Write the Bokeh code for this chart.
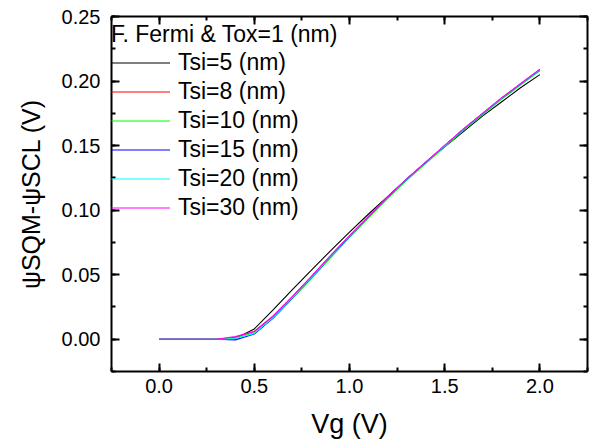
from bokeh.plotting import figure
from bokeh.models import (LinearAxis, SingleIntervalTicker, PrintfTickFormatter,
                          CustomJSTickFormatter, Legend, LegendItem)
from bokeh.embed import file_html
from bokeh.resources import INLINE

# Gate voltage sweep (V)
vg = [0.0, 0.1, 0.2, 0.3, 0.4, 0.5, 0.6, 0.7, 0.8, 0.9, 1.0,
      1.1, 1.2, 1.3, 1.4, 1.5, 1.6, 1.7, 1.8, 1.9, 2.0]

# Surface potential difference psi_SQM - psi_SCL (V) for each silicon thickness
psi_tsi5 = [0.0, 0.0, 0.0, 0.0, 0.0005, 0.0080, 0.0230, 0.0385, 0.0535, 0.0685, 0.0830,
            0.0970, 0.1105, 0.1240, 0.1370, 0.1490, 0.1610, 0.1730, 0.1840, 0.1950, 0.2050]
psi_tsi8 = [0.0, 0.0, 0.0, 0.0, 0.0015, 0.0060, 0.0180, 0.0330, 0.0485, 0.0645, 0.0800,
            0.0950, 0.1100, 0.1240, 0.1370, 0.1500, 0.1630, 0.1750, 0.1870, 0.1980, 0.2090]
psi_tsi10 = [0.0, 0.0, 0.0, 0.0, 0.0010, 0.0050, 0.0165, 0.0315, 0.0470, 0.0630, 0.0790,
             0.0940, 0.1090, 0.1230, 0.1360, 0.1490, 0.1620, 0.1740, 0.1860, 0.1970, 0.2080]
psi_tsi15 = [0.0, 0.0, 0.0, 0.0, -0.0005, 0.0040, 0.0165, 0.0320, 0.0478, 0.0640, 0.0795,
             0.0948, 0.1098, 0.1238, 0.1368, 0.1498, 0.1628, 0.1748, 0.1868, 0.1978, 0.2088]
psi_tsi20 = [0.0, 0.0, 0.0, 0.0, 0.0005, 0.0045, 0.0170, 0.0322, 0.0480, 0.0642, 0.0798,
             0.0949, 0.1099, 0.1239, 0.1369, 0.1499, 0.1629, 0.1749, 0.1869, 0.1979, 0.2089]
psi_tsi30 = [0.0, 0.0, 0.0, 0.0, 0.0020, 0.0060, 0.0180, 0.0330, 0.0487, 0.0647, 0.0802,
             0.0952, 0.1101, 0.1241, 0.1371, 0.1501, 0.1631, 0.1751, 0.1871, 0.1981, 0.2092]

series_labels = ["Tsi=5 (nm)", "Tsi=8 (nm)", "Tsi=10 (nm)",
                 "Tsi=15 (nm)", "Tsi=20 (nm)", "Tsi=30 (nm)"]
series_values = [psi_tsi5, psi_tsi8, psi_tsi10, psi_tsi15, psi_tsi20, psi_tsi30]
series_colors = ["#000000", "#ff0000", "#00ff00", "#0000ff", "#00ffff", "#ff00ff"]

legend_title = "F. Fermi & Tox=1 (nm)"
x_title = "Vg (V)"
y_title = "\u03c8SQM-\u03c8SCL (V)"

FONT = "Liberation Sans"
X0, X1 = -0.25, 2.25
Y0, Y1 = -0.025, 0.25

p = figure(width=590, height=446, x_range=(X0, X1), y_range=(Y0, Y1),
           output_backend="svg", toolbar_location=None,
           min_border_left=111, min_border_right=3,
           min_border_top=16, min_border_bottom=75,
           background_fill_color="white", border_fill_color="white")
p.xgrid.visible = False
p.ygrid.visible = False
p.outline_line_color = None

renderers = []
for vals, col in zip(series_values, series_colors):
    r = p.line(vg, vals, line_color=col, line_width=1.1)
    renderers.append(r)


def style_axis(ax, ticker, fmt):
    ax.ticker = ticker
    ax.formatter = fmt
    ax.axis_line_width = 2
    ax.axis_line_color = "black"
    ax.major_tick_line_width = 2
    ax.minor_tick_line_width = 2
    ax.major_tick_line_color = "black"
    ax.minor_tick_line_color = "black"
    ax.major_tick_in = 8
    ax.major_tick_out = 0
    ax.minor_tick_in = 4
    ax.minor_tick_out = 0
    ax.major_label_text_font = FONT
    ax.major_label_text_font_size = "20px"
    ax.major_label_text_color = "black"


def xticker():
    return SingleIntervalTicker(interval=0.5, num_minor_ticks=2)


def yticker():
    return SingleIntervalTicker(interval=0.05, num_minor_ticks=2)


blank = CustomJSTickFormatter(code="return ''")

xb = p.xaxis[0]
style_axis(xb, xticker(), PrintfTickFormatter(format="%.1f"))
xb.major_label_standoff = 7
xb.axis_label = x_title
xb.axis_label_text_font = FONT
xb.axis_label_text_font_size = "27px"
xb.axis_label_text_font_style = "normal"
xb.axis_label_text_color = "black"
xb.axis_label_standoff = 13

yl = p.yaxis[0]
style_axis(yl, yticker(), PrintfTickFormatter(format="%.2f"))
yl.major_label_standoff = 11
yl.axis_label = y_title
yl.axis_label_text_font = FONT
yl.axis_label_text_font_size = "25px"
yl.axis_label_text_font_style = "normal"
yl.axis_label_text_color = "black"
yl.axis_label_standoff = 14

xt = LinearAxis()
style_axis(xt, xticker(), blank)
xt.major_label_standoff = 0
p.add_layout(xt, "above")

yr = LinearAxis()
style_axis(yr, yticker(), blank)
yr.major_label_standoff = 0
p.add_layout(yr, "right")

legend = Legend(
    items=[LegendItem(label=lab, renderers=[r]) for lab, r in zip(series_labels, renderers)],
    location=(0, 149),
    title=legend_title,
    title_text_font=FONT, title_text_font_size="23px", title_text_font_style="normal",
    title_text_color="black", title_standoff=0,
    label_text_font=FONT, label_text_font_size="23px", label_text_color="black",
    glyph_width=59, glyph_height=29, label_height=29, label_standoff=8,
    spacing=0, padding=0, margin=0,
    border_line_alpha=0, background_fill_alpha=0,
)
p.add_layout(legend)

open("out.html", "w").write(file_html(p, INLINE))
